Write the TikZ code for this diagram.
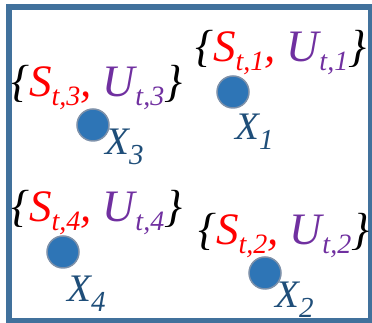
\documentclass[tikz,border=0pt]{standalone}
\usepackage{fontspec}
\setmainfont{Liberation Serif}
\definecolor{frameblue}{RGB}{65,113,156}
\definecolor{dotblue}{RGB}{46,117,182}
\definecolor{dotring}{RGB}{125,145,170}
\definecolor{labblue}{RGB}{31,78,121}
\definecolor{sred}{RGB}{255,0,0}
\definecolor{upur}{RGB}{112,48,160}
\newcommand{\setsub}[1]{\raisebox{-9pt}{\fontsize{28}{28}\selectfont #1}}
\newcommand{\xsub}[1]{\raisebox{-10pt}{\fontsize{29}{29}\selectfont #1}}
\newcommand{\setlbl}[1]{\{\textcolor{sred}{S\setsub{t,#1},} \textcolor{upur}{U\setsub{t,#1}}\}}
\tikzset{
  setlabel/.style={anchor=base west, inner sep=0pt, font=\rmfamily\itshape\fontsize{45}{50}\selectfont},
  xlabel/.style={anchor=base west, inner sep=0pt, text=labblue, font=\rmfamily\itshape\fontsize{39}{44}\selectfont},
  sensor/.style={circle, fill=dotblue, draw=dotring, line width=1.5pt, minimum size=32pt, inner sep=0pt}
}
\begin{document}
\begin{tikzpicture}[x=1pt,y=1pt]
\useasboundingbox (0,0) rectangle (372,323);
\draw[frameblue, line width=6pt] (9,2) rectangle (371,316);
% sets
\node[setlabel] (s1) at (195,261) {\setlbl{1}};
\node[setlabel] (s3) at (11,226) {\setlbl{3}};
\node[setlabel] (s4) at (11,101) {\setlbl{4}};
\node[setlabel] (s2) at (198,78) {\setlbl{2}};
% dots
\node[sensor] (d1) at (233,231) {};
\node[sensor] (d3) at (93,198) {};
\node[sensor] (d4) at (63,71) {};
\node[sensor] (d2) at (265,50) {};
% labels
\node[xlabel] (x1) at (235,183) {X\xsub{1}};
\node[xlabel] (x3) at (105,168) {X\xsub{3}};
\node[xlabel] (x4) at (67,21) {X\xsub{4}};
\node[xlabel] (x2) at (275,15) {X\xsub{2}};
\end{tikzpicture}
\end{document}
